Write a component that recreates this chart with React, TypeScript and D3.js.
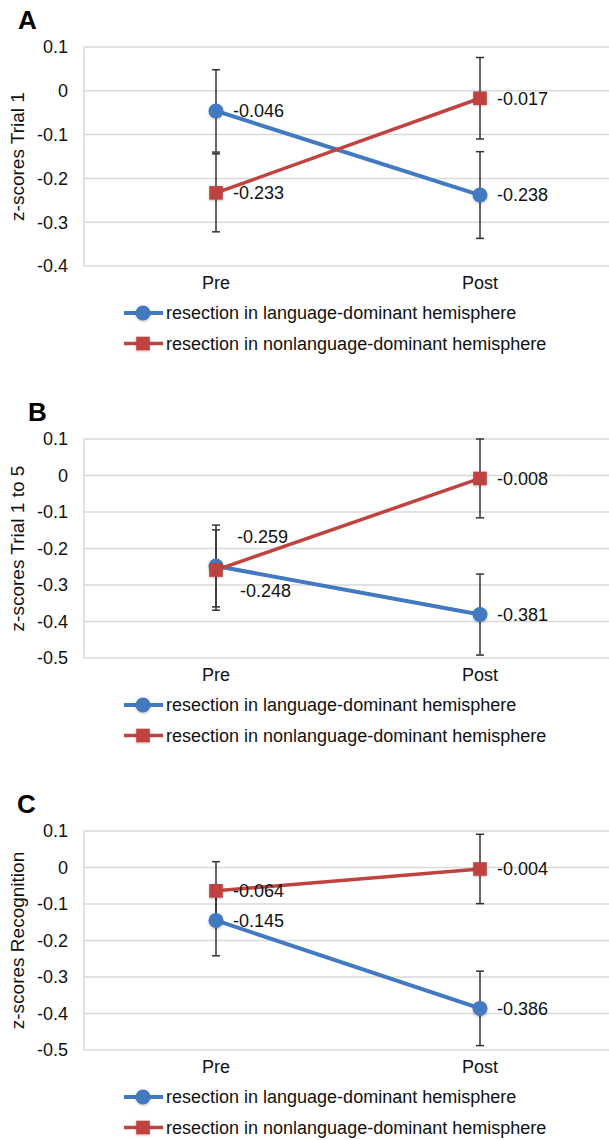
import React from "react";
import * as d3 from "d3";

// values
const categories = ["Pre", "Post"];
const seriesNames = [
  "resection in language-dominant hemisphere",
  "resection in nonlanguage-dominant hemisphere",
];

const trial1Lang = [-0.046, -0.238];
const trial1LangErr = [0.094, 0.099];
const trial1Nonlang = [-0.233, -0.017];
const trial1NonlangErr = [0.089, 0.093];

const trial15Lang = [-0.248, -0.381];
const trial15LangErr = [0.112, 0.111];
const trial15Nonlang = [-0.259, -0.008];
const trial15NonlangErr = [0.11, 0.108];

const recogLang = [-0.145, -0.386];
const recogLangErr = [0.097, 0.102];
const recogNonlang = [-0.064, -0.004];
const recogNonlangErr = [0.08, 0.095];

const ticksA = [0.1, 0, -0.1, -0.2, -0.3, -0.4];
const ticksBC = [0.1, 0, -0.1, -0.2, -0.3, -0.4, -0.5];

// layout
const W = 609,
  H = 1140;
const plotLeft = 84,
  plotRight = 612,
  plotHeight = 219;
const blue = "#4279c0";
const red = "#c0433f";
const font = "'Liberation Sans', Arial, sans-serif";
const fs = 18;

const panels = [
  {
    letter: "A",
    letterX: 18,
    top: 47,
    title: "z-scores Trial 1",
    ticks: ticksA,
    lang: trial1Lang,
    langErr: trial1LangErr,
    non: trial1Nonlang,
    nonErr: trial1NonlangErr,
    nudge: null,
  },
  {
    letter: "B",
    letterX: 28,
    top: 439,
    title: "z-scores Trial 1 to 5",
    ticks: ticksBC,
    lang: trial15Lang,
    langErr: trial15LangErr,
    non: trial15Nonlang,
    nonErr: trial15NonlangErr,
    // pre labels are pushed apart in the original
    nudge: { lang: [24, 25], non: [21, -33] },
  },
  {
    letter: "C",
    letterX: 17,
    top: 831,
    title: "z-scores Recognition",
    ticks: ticksBC,
    lang: recogLang,
    langErr: recogLangErr,
    non: recogNonlang,
    nonErr: recogNonlangErr,
    nudge: null,
  },
];

const x = d3
  .scalePoint<string>()
  .domain(categories)
  .range([plotLeft, plotRight])
  .padding(0.5);

const Marker = ({ kind, cx, cy }: any) =>
  kind === "circle" ? (
    <circle cx={cx} cy={cy} r={7.5} fill={blue} filter="url(#shadow)" />
  ) : (
    <rect x={cx - 6.8} y={cy - 6.8} width={13.6} height={13.6} fill={red} filter="url(#shadow)" />
  );

const Panel = ({ p }: any) => {
  const y = d3
    .scaleLinear()
    .domain([d3.min(p.ticks as number[])!, d3.max(p.ticks as number[])!])
    .range([p.top + plotHeight, p.top]);
  const bottom = p.top + plotHeight;
  const line = d3
    .line<number>()
    .x((d, i) => x(categories[i])!)
    .y((d) => y(d));

  const series = [
    { key: "lang", vals: p.lang, err: p.langErr, color: blue, kind: "circle", width: 4 },
    { key: "non", vals: p.non, err: p.nonErr, color: red, kind: "square", width: 3.5 },
  ];

  return (
    <g>
      <text x={p.letterX} y={p.top - 18} fontSize={26} fontWeight="bold" fontFamily={font}>
        {p.letter}
      </text>
      {/* grid */}
      {p.ticks.map((t: number) => (
        <g key={t}>
          <line x1={plotLeft} x2={plotRight} y1={y(t)} y2={y(t)} stroke="#d9d9d9" strokeWidth={1.5} />
          <text x={68} y={y(t)} dy="0.35em" textAnchor="end" fontSize={fs} fontFamily={font} fill="#111">
            {String(t)}
          </text>
        </g>
      ))}
      <line x1={plotLeft} x2={plotLeft} y1={p.top} y2={bottom} stroke="#d9d9d9" strokeWidth={1.5} />
      <text
        transform={`translate(17,${p.top + plotHeight / 2}) rotate(-90)`}
        dy="0.35em"
        textAnchor="middle"
        fontSize={19}
        fontFamily={font}
        fill="#111"
      >
        {p.title}
      </text>
      {categories.map((c) => (
        <text key={c} x={x(c)} y={bottom + 23} textAnchor="middle" fontSize={fs} fontFamily={font} fill="#111">
          {c}
        </text>
      ))}
      {/* error bars */}
      {series.map((s) =>
        s.vals.map((v: number, i: number) => {
          const cx = x(categories[i])!;
          const y0 = y(v - s.err[i]);
          const y1 = y(v + s.err[i]);
          return (
            <g key={s.key + i} stroke="#333" strokeWidth={1.5}>
              <line x1={cx} x2={cx} y1={y0} y2={y1} />
              <line x1={cx - 4} x2={cx + 4} y1={y0} y2={y0} />
              <line x1={cx - 4} x2={cx + 4} y1={y1} y2={y1} />
            </g>
          );
        })
      )}
      {series.map((s) => (
        <g key={s.key}>
          <path d={line(s.vals)!} fill="none" stroke={s.color} strokeWidth={s.width} />
          {s.vals.map((v: number, i: number) => (
            <Marker key={i} kind={s.kind} cx={x(categories[i])} cy={y(v)} />
          ))}
        </g>
      ))}
      {/* value labels */}
      {series.map((s) =>
        s.vals.map((v: number, i: number) => {
          const n = p.nudge && i === 0 ? p.nudge[s.key] : [17, 0];
          return (
            <text
              key={s.key + "l" + i}
              x={x(categories[i])! + n[0]}
              y={y(v) + n[1]}
              dy="0.35em"
              fontSize={fs}
              fontFamily={font}
              fill="#111"
            >
              {v.toFixed(3)}
            </text>
          );
        })
      )}
      {/* legend */}
      {series.map((s, i) => {
        const ly = bottom + 47 + i * 30.5;
        return (
          <g key={s.key + "leg"}>
            <line x1={124} x2={163} y1={ly} y2={ly} stroke={s.color} strokeWidth={s.width} />
            <Marker kind={s.kind} cx={143} cy={ly} />
            <text x={166} y={ly} dy="0.35em" fontSize={fs} fontFamily={font} fill="#111">
              {seriesNames[i]}
            </text>
          </g>
        );
      })}
    </g>
  );
};

export default function App() {
  return (
    <svg width={W} height={H} style={{ position: "absolute", left: 0, top: 0, background: "#fff" }}>
      <defs>
        <filter id="shadow" x="-50%" y="-50%" width="200%" height="200%">
          <feDropShadow dx="0" dy="1" stdDeviation="1.2" floodColor="#000" floodOpacity="0.25" />
        </filter>
      </defs>
      {panels.map((p) => (
        <Panel key={p.letter} p={p} />
      ))}
    </svg>
  );
}
